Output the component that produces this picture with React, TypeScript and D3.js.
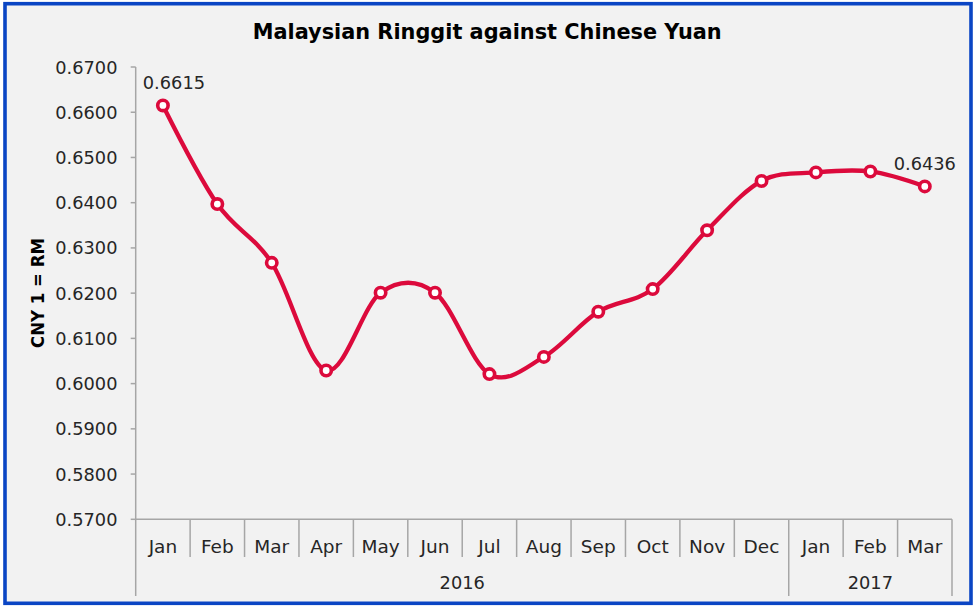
import React from "react";
import * as d3 from "d3";

const months = ["Jan", "Feb", "Mar", "Apr", "May", "Jun", "Jul", "Aug", "Sep", "Oct", "Nov", "Dec", "Jan", "Feb", "Mar"];
const years = [
  { label: "2016", from: 0, to: 11 },
  { label: "2017", from: 12, to: 14 },
];
const rates = [0.6615, 0.6397, 0.6267, 0.6029, 0.6201, 0.6201, 0.6021, 0.6059, 0.6159, 0.6209, 0.6339, 0.6448, 0.6467, 0.6469, 0.6436];
const yTicks = [0.57, 0.58, 0.59, 0.6, 0.61, 0.62, 0.63, 0.64, 0.65, 0.66, 0.67];
const labelled = [0, 14];

const W = 977;
const H = 606;
const LINE = "#DC0A3C";
const AXIS = "#A6A6A6";
const TEXT = "#262626";
const FONT = "'DejaVu Sans', Verdana, sans-serif";

export default function App() {
  const left = 135.7;
  const right = 952;
  const top = 67;
  const bottom = 519.3;
  const x = d3.scaleBand<number>().domain(months.map((_, i) => i)).range([left, right]).paddingInner(0).paddingOuter(0);
  const y = d3.scaleLinear().domain([0.57, 0.67]).range([bottom, top]);
  const cx = (i: number) => (x(i) as number) + x.bandwidth() / 2;
  const line = d3
    .line<number>()
    .x((_, i) => cx(i))
    .y((d) => y(d))
    .curve(d3.curveCardinal.tension(0));
  const path = line(rates) || "";
  const sepShort = 557;
  const sepLong = 596;

  return (
    <div style={{ position: "absolute", left: 0, top: 0 }}>
      <svg width={W} height={H} style={{ display: "block" }}>
        <rect x={0} y={0} width={W} height={H} fill="#ffffff" />
        <rect x={5} y={3.7} width={966} height={599.6} fill="#F2F2F2" stroke="#0A45C4" strokeWidth={3.6} />
        <text
          x={487.2}
          y={39.3}
          textAnchor="middle"
          fontFamily={FONT}
          fontWeight="bold"
          fontSize={20.5}
          fill="#000"
          textLength={469}
          lengthAdjust="spacingAndGlyphs"
        >
          Malaysian Ringgit against Chinese  Yuan
        </text>
        <text
          transform={`translate(38,293) rotate(-90)`}
          textAnchor="middle"
          dominantBaseline="central"
          fontFamily={FONT}
          fontWeight="bold"
          fontSize={17}
          fill="#000"
          textLength={110}
          lengthAdjust="spacingAndGlyphs"
        >
          CNY 1 = RM
        </text>
        {/* Y axis */}
        <line x1={left} x2={left} y1={top} y2={sepLong} stroke={AXIS} strokeWidth={1.5} />
        {yTicks.map((t) => (
          <g key={t}>
            <line x1={left - 5} x2={left} y1={y(t)} y2={y(t)} stroke={AXIS} strokeWidth={1.5} />
            <text
              x={117.5}
              y={y(t)}
              textAnchor="end"
              dominantBaseline="central"
              fontFamily={FONT}
              fontSize={17.8}
              fill={TEXT}
            >
              {d3.format(".4f")(t)}
            </text>
          </g>
        ))}
        {/* X axis */}
        <line x1={left} x2={right} y1={bottom} y2={bottom} stroke={AXIS} strokeWidth={1.5} />
        {months.map((m, i) => {
          const bx = (x(i) as number) + x.bandwidth();
          const isYearEnd = years.some((yr) => yr.to === i);
          return (
            <g key={i}>
              <line x1={bx} x2={bx} y1={bottom} y2={isYearEnd ? sepLong : sepShort} stroke={AXIS} strokeWidth={1.5} />
              <text
                x={cx(i)}
                y={546}
                textAnchor="middle"
                dominantBaseline="central"
                fontFamily={FONT}
                fontSize={18.5}
                fill={TEXT}
              >
                {m}
              </text>
            </g>
          );
        })}
        {years.map((yr) => {
          const x0 = x(yr.from) as number;
          const x1 = (x(yr.to) as number) + x.bandwidth();
          return (
            <text
              key={yr.label}
              x={(x0 + x1) / 2}
              y={582.5}
              textAnchor="middle"
              dominantBaseline="central"
              fontFamily={FONT}
              fontSize={17.8}
              fill={TEXT}
            >
              {yr.label}
            </text>
          );
        })}
        {/* Series */}
        <path d={path} fill="none" stroke={LINE} strokeWidth={4.3} strokeLinejoin="round" />
        {rates.map((v, i) => (
          <circle key={i} cx={cx(i)} cy={y(v)} r={5.2} fill="#ffffff" stroke={LINE} strokeWidth={3.6} />
        ))}
        {labelled.map((i) => (
          <text
            key={i}
            x={cx(i) + (i === 0 ? 11 : 0)}
            y={y(rates[i]) - 16}
            textAnchor="middle"
            fontFamily={FONT}
            fontSize={17.8}
            fill={TEXT}
          >
            {d3.format(".4f")(rates[i])}
          </text>
        ))}
      </svg>
    </div>
  );
}
